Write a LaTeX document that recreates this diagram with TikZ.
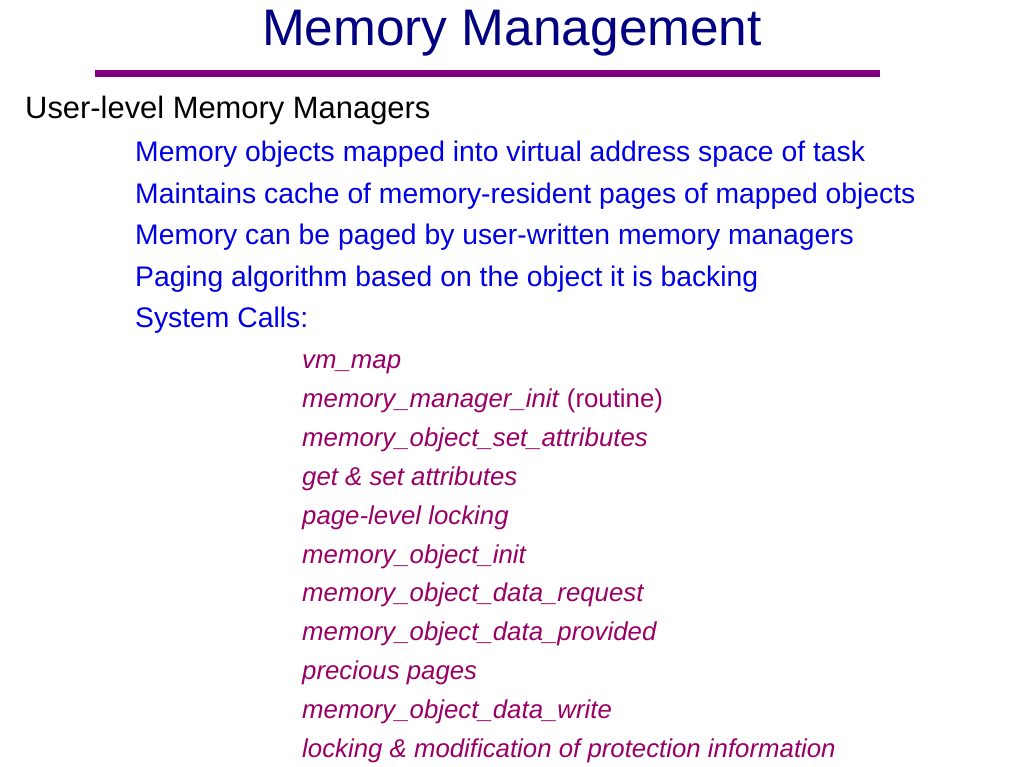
\documentclass[tikz,border=0pt]{standalone}
\usepackage{fontspec}
\setmainfont{Liberation Sans}
\definecolor{titleblue}{RGB}{0,0,128}
\definecolor{barpurple}{RGB}{128,0,128}
\definecolor{pointblue}{RGB}{0,0,230}
\definecolor{callpurple}{RGB}{153,0,102}
\begin{document}
\begin{tikzpicture}[x=1pt,y=-1pt]

\def\pgap{41.5}
\def\cgap{38.8}
\tikzstyle{title} = [anchor=base, inner sep=0pt, text=titleblue,
	font=\fontsize{51.4}{60}\selectfont];
\tikzstyle{head} = [anchor=base west, inner sep=0pt,
	font=\fontsize{30.9}{36}\selectfont];
\tikzstyle{point} = [anchor=base west, inner sep=0pt, text=pointblue,
	font=\fontsize{28.3}{34}\selectfont];
\tikzstyle{call} = [anchor=base west, inner sep=0pt, text=callpurple,
	font=\fontsize{25.8}{30}\selectfont\itshape];
\useasboundingbox[fill=white] (0,0) rectangle (1023,767);

\node[title] (t) at (512,46) {Memory Management};
\draw[barpurple, line width=7pt] (95,74) -- (880,74);

\node[head] (h) at (25,118.5) {User-level Memory Managers};

\node[point] (p0) at (135,162+0*\pgap) {Memory objects mapped into virtual address space of task};
\node[point] (p1) at (135,162+1*\pgap) {Maintains cache of memory-resident pages of mapped objects};
\node[point] (p2) at (135,162+2*\pgap) {Memory can be paged by user-written memory managers};
\node[point] (p3) at (135,162+3*\pgap) {Paging algorithm based on the object it is backing};
\node[point] (p4) at (135,162+4*\pgap) {System Calls:};

\node[call] (c0) at (302,369+0*\cgap) {vm\_map};
\node[call] (c1) at (302,369+1*\cgap) {memory\_manager\_init\/ \upshape(routine)};
\node[call] (c2) at (302,369+2*\cgap) {memory\_object\_set\_attributes};
\node[call] (c3) at (302,369+3*\cgap) {get \& set attributes};
\node[call] (c4) at (302,369+4*\cgap) {page-level locking};
\node[call] (c5) at (302,369+5*\cgap) {memory\_object\_init};
\node[call] (c6) at (302,369+6*\cgap) {memory\_object\_data\_request};
\node[call] (c7) at (302,369+7*\cgap) {memory\_object\_data\_provided};
\node[call] (c8) at (302,369+8*\cgap) {precious pages};
\node[call] (c9) at (302,369+9*\cgap) {memory\_object\_data\_write};
\node[call] (c10) at (302,369+10*\cgap) {locking \& modification of protection information};

\end{tikzpicture}
\end{document}
